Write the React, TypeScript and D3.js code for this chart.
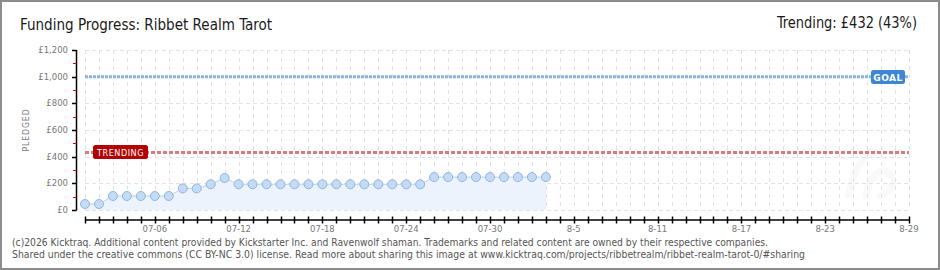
import React from "react";
import * as d3 from "d3";

const TITLE = "Funding Progress: Ribbet Realm Tarot";
const TRENDING_TEXT = "Trending: £432 (43%)";
const FOOTER_1 = "(c)2026 Kicktraq. Additional content provided by Kickstarter Inc. and Ravenwolf shaman. Trademarks and related content are owned by their respective companies.";
const FOOTER_2 = "Shared under the creative commons (CC BY-NC 3.0) license. Read more about sharing this image at www.kicktraq.com/projects/ribbetrealm/ribbet-realm-tarot-0/#sharing";

const START_DATE = "2026-07-01";
const END_DATE = "2026-08-29";
const pledged = [45, 45, 105, 105, 105, 105, 105, 162, 162, 193, 240, 193, 193, 193, 193, 193, 193, 193, 193, 193, 193, 193, 193, 193, 193, 247, 247, 247, 247, 247, 247, 247, 247, 247];
const xTickLabels = ["07-06", "07-12", "07-18", "07-24", "07-30", "8-5", "8-11", "8-17", "8-23", "8-29"];
const xLabelDates = ["2026-07-06", "2026-07-12", "2026-07-18", "2026-07-24", "2026-07-30", "2026-08-05", "2026-08-11", "2026-08-17", "2026-08-23", "2026-08-29"];
const yTicks = [0, 200, 400, 600, 800, 1000, 1200];
const yMinorTicks = [100, 300, 500, 700, 900, 1100];
const yTickLabels = ["£0", "£200", "£400", "£600", "£800", "£1,000", "£1,200"];
const GOAL = 1000;
const TRENDING = 432;

const parse = d3.utcParse("%Y-%m-%d");

export default function App() {
  const start = parse(START_DATE) as Date;
  const end = parse(END_DATE) as Date;
  const x = d3.scaleUtc().domain([start, end]).range([85, 909]);
  const y = d3.scaleLinear().domain([0, 1200]).range([210, 50]);
  const days = d3.utcDay.range(start, d3.utcDay.offset(end, 1));
  const pts = pledged.map((v, i) => ({ d: d3.utcDay.offset(start, i), v }));
  const line = d3.line<any>().x((p) => x(p.d)).y((p) => y(p.v));
  const area = d3.area<any>().x((p) => x(p.d)).y0(y(0)).y1((p) => y(p.v));
  const axisFont = "'DejaVu Sans', Verdana, sans-serif";
  const [x0, x1] = x.range();

  return (
    <svg width={940} height={270} style={{ position: "absolute", left: 0, top: 0, background: "#fff" }}>
      <rect x={1} y={1} width={938} height={268} fill="#fff" stroke="#8c8c8c" strokeWidth={2} />
      <text x={20} y={30} fontFamily="'DejaVu Sans Condensed', 'Liberation Sans Narrow', 'DejaVu Sans', sans-serif" fontSize={15.5} fill="#1a1a1a" textLength={252} lengthAdjust="spacingAndGlyphs">{TITLE}</text>
      <text x={917} y={27.5} textAnchor="end" fontFamily="'DejaVu Sans Condensed', 'Liberation Sans Narrow', 'DejaVu Sans', sans-serif" fontSize={16} fill="#1a1a1a" textLength={140} lengthAdjust="spacingAndGlyphs">{TRENDING_TEXT}</text>

      {/* watermark */}
      <g fill="none" stroke="#f9f9f9" strokeWidth={7} strokeLinecap="round">
        <path d="M848,195 C852,175 860,160 872,152" />
        <path d="M866,195 C870,178 878,168 888,172 C896,178 894,192 880,196" />
      </g>

      {/* grid */}
      <g stroke="#e2e2e2" strokeWidth={1}>
        {days.map((d, i) => (
          <line key={"v" + i} x1={Math.round(x(d)) + 0.5} x2={Math.round(x(d)) + 0.5} y1={y(1200)} y2={y(0)} strokeDasharray="4,4" />
        ))}
        {yTicks.map((t) => (
          <line key={"h" + t} x1={x0} x2={x1} y1={Math.round(y(t)) + 0.5} y2={Math.round(y(t)) + 0.5} strokeDasharray="4,3" />
        ))}
      </g>

      {/* area + line + points */}
      <path d={area(pts) || ""} fill="#ecf3fc" />
      <path d={line(pts) || ""} fill="none" stroke="#b9d3f0" strokeWidth={1} />
      {pts.map((p, i) => (
        <circle key={i} cx={x(p.d)} cy={y(p.v)} r={4.5} fill="#c3dbf5" stroke="#92b4dc" strokeWidth={1} />
      ))}

      {/* goal line */}
      <line x1={x0} x2={x1} y1={y(GOAL)} y2={y(GOAL)} stroke="#8db2de" strokeWidth={3} strokeDasharray="3,1" />
      <rect x={871} y={70} width={34} height={14} rx={2.5} fill="#3d86d6" />
      <text x={888} y={80.5} textAnchor="middle" fontFamily={axisFont} fontSize={9} fontWeight="bold" fill="#fff" letterSpacing={0.5}>GOAL</text>

      {/* trending line */}
      <line x1={x0} x2={x1} y1={y(TRENDING)} y2={y(TRENDING)} stroke="#d97a7c" strokeWidth={3} strokeDasharray="4,2" />
      <rect x={93} y={145} width={55} height={14} rx={2.5} fill="#b30202" />
      <text x={120.5} y={155.5} textAnchor="middle" fontFamily={axisFont} fontSize={9} fill="#fff" letterSpacing={0.6} textLength={47} lengthAdjust="spacingAndGlyphs">TRENDING</text>

      {/* y axis */}
      <line x1={76.5} x2={76.5} y1={y(1200)} y2={y(0) + 0.5} stroke="#000" strokeWidth={1.5} />
      {yTicks.map((t, i) => (
        <g key={"yt" + t}>
          <line x1={72} x2={76.5} y1={Math.round(y(t)) + 0.5} y2={Math.round(y(t)) + 0.5} stroke="#000" strokeWidth={1.5} />
          <text x={68} y={y(t) + 3} textAnchor="end" fontFamily={axisFont} fontSize={8.5} fill="#777">{yTickLabels[i]}</text>
        </g>
      ))}
      {yMinorTicks.map((t) => (
        <line key={"ym" + t} x1={73} x2={76.5} y1={Math.round(y(t)) + 0.5} y2={Math.round(y(t)) + 0.5} stroke="#e00000" strokeWidth={1} />
      ))}
      <text transform="translate(29,130) rotate(-90)" textAnchor="middle" fontFamily={axisFont} fontSize={8.5} fill="#777" letterSpacing={1} textLength={43} lengthAdjust="spacingAndGlyphs">PLEDGED</text>

      {/* x axis */}
      <line x1={x0} x2={x1} y1={220} y2={220} stroke="#000" strokeWidth={1.5} />
      {days.map((d, i) => (
        <line key={"xt" + i} x1={Math.round(x(d)) + 0.5} x2={Math.round(x(d)) + 0.5} y1={216.5} y2={223.5} stroke="#000" strokeWidth={1.5} />
      ))}
      {xLabelDates.map((ds, i) => (
        <text key={"xl" + i} x={x(parse(ds) as Date)} y={232} textAnchor="middle" fontFamily={axisFont} fontSize={8.5} fill="#777">{xTickLabels[i]}</text>
      ))}

      {/* footer */}
      <text x={12} y={246} fontFamily="Tahoma, 'DejaVu Sans', Verdana, sans-serif" fontSize={10} fill="#555" textLength={756} lengthAdjust="spacingAndGlyphs">{FOOTER_1}</text>
      <text x={12} y={258} fontFamily="Tahoma, 'DejaVu Sans', Verdana, sans-serif" fontSize={10} fill="#555" textLength={793} lengthAdjust="spacingAndGlyphs">{FOOTER_2}</text>
    </svg>
  );
}
